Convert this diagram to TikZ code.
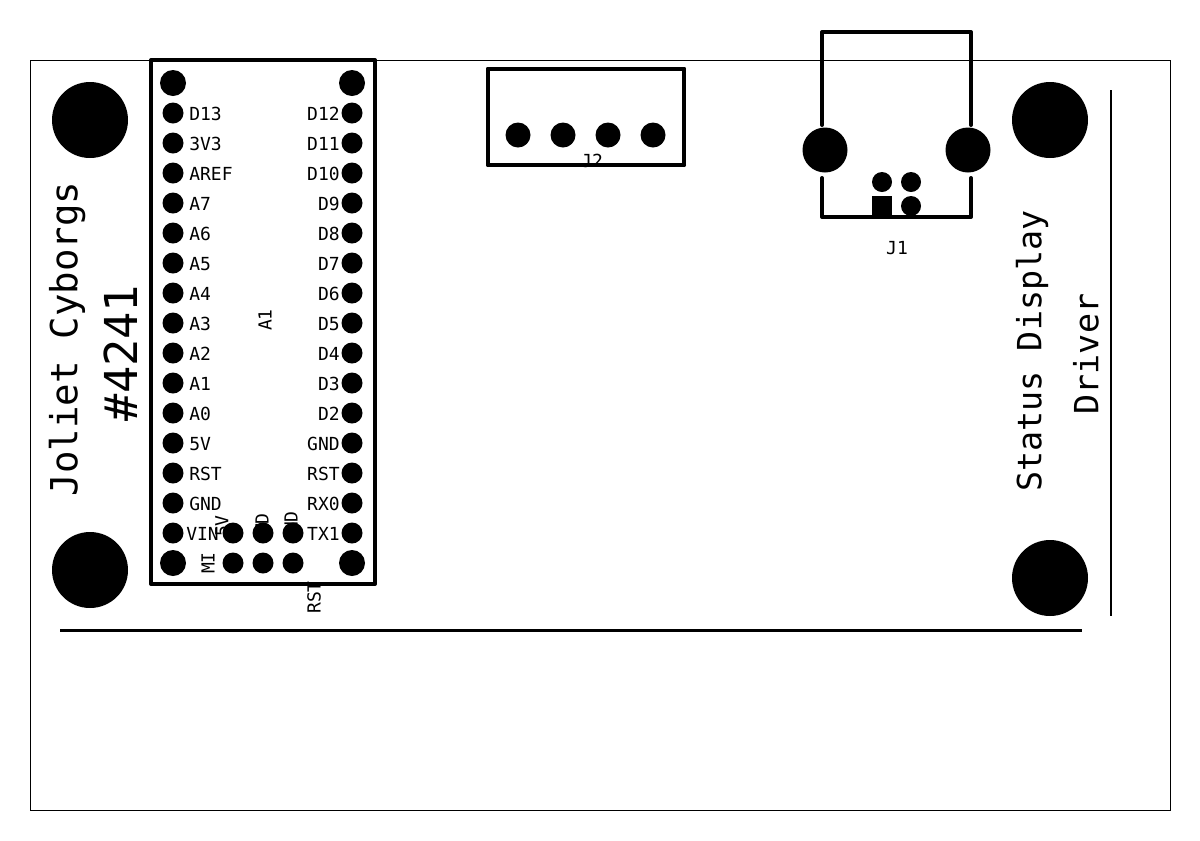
\documentclass[tikz,border=0pt]{standalone}
\usepackage{fontspec}
\setmainfont{DejaVu Sans Mono}
\newcommand{\lab}{\fontsize{13.5pt}{14pt}\selectfont}
\tikzset{
  x=0.75pt,y=-0.75pt,
  pad/.style={circle,fill=black,draw=none,inner sep=0pt,minimum size=#1*0.75pt},
  pcb/.style={draw=black,line width=3pt,line cap=round,line join=round},
  lbl/.style={inner sep=0pt,font=\lab},
  big/.style={inner sep=0pt,rotate=90,font=\fontsize{#1}{#1}\selectfont},
}
\begin{document}
\begin{tikzpicture}
\useasboundingbox (0,0) rectangle (1200,840);
\fill[white] (0,0) rectangle (1200,840);
% board outline
\draw[line width=0.75pt] (30.5,60.5) rectangle (1170.5,810.5);
% mounting holes
\node[pad=76] (h1) at (90,120) {};
\node[pad=76] (h2) at (90,570) {};
\node[pad=76] (h3) at (1050,120) {};
\node[pad=76] (h4) at (1050,578) {};
% fabrication lines
\draw[line width=2.2pt] (60,630.5) -- (1082,630.5);
\draw[line width=1.5pt] (1110.5,90) -- (1110.5,616);
% A1
\draw[pcb] (151,60) rectangle (375,584);
\node[pad=26] at (173,83) {};
\node[pad=26] at (352,83) {};
\node[pad=26] at (173,563) {};
\node[pad=26] at (352,563) {};
\foreach \yy/\ll/\rr in {113/D13/D12,143/3V3/D11,173/AREF/D10,203/A7/D9,233/A6/D8,263/A5/D7,293/A4/D6,323/A3/D5,353/A2/D4,383/A1/D3,413/A0/D2,443/5V/GND,473/RST/RST,503/GND/RX0,533/VIN/TX1}{
  \node[pad=21] at (173,\yy) {};
  \node[pad=21] at (352,\yy) {};
  \node[lbl,anchor=east] at (340,\yy+1) {\rr};
  \ifnum\yy=533\relax
    \node[lbl,anchor=west] at (186,\yy+1) {\ll};
  \else
    \node[lbl,anchor=west] at (189,\yy+1) {\ll};
  \fi
}
\foreach \xx in {233,263,293}{
  \node[pad=21] at (\xx,533) {};
  \node[pad=21] at (\xx,563) {};
}
\node[lbl,rotate=90,anchor=east] at (222,515) {5V};
\node[lbl,rotate=90,anchor=east] at (262,513) {MD};
\node[lbl,rotate=90,anchor=east] at (291,511) {GND};
\node[lbl,rotate=90] at (208,563) {MI};
\node[lbl,rotate=90,anchor=east] at (314,581) {RST};
\node[lbl,rotate=90] at (265,320) {A1};
% J2
\draw[pcb] (488,165) -- (488,69);
\draw[pcb] (684,165) -- (684,69);
\draw[pcb] (488,68.5) -- (684,68.5);
\draw[pcb] (488,165) -- (684,165);
\foreach \xx in {518,563,608,653}{\node[pad=25] at (\xx,135) {};}
\node[lbl] at (592,161) {J2};
% J1
\draw[pcb] (822,125) -- (822,32) -- (971,32) -- (971,125);
\draw[pcb] (822,178) -- (822,217) -- (971,217) -- (971,178);
\node[pad=45] at (825,150) {};
\node[pad=45] at (968,150) {};
\node[pad=20] at (882,182) {};
\node[pad=20] at (911,182) {};
\node[pad=20] at (911,206) {};
\fill (872,196) rectangle (892,217);
\node[lbl] at (897,248) {J1};
% silkscreen text
\node[big=28pt] at (67,339) {Joliet Cyborgs};
\node[big=35pt,font=\fontsize{34pt}{34pt}\selectfont] at (121,353) {\#4241};
\node[big=25pt] at (1032,351) {Status Display};
\node[big=25pt] at (1086,354) {Driver};
\end{tikzpicture}
\end{document}
